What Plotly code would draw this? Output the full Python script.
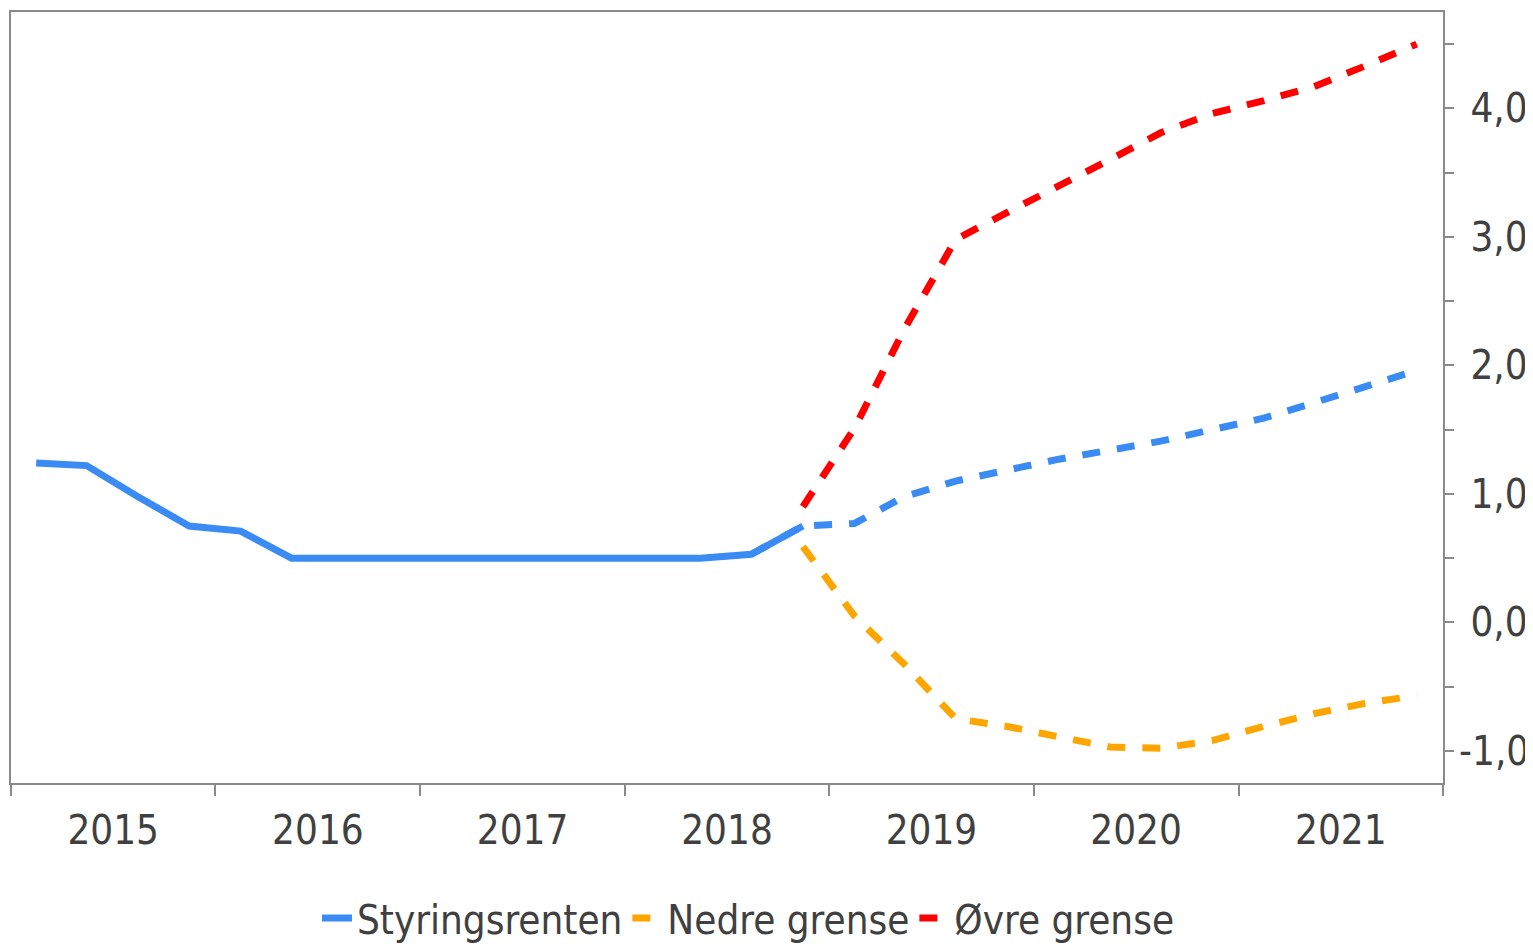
import pandas as pd
import plotly.graph_objects as go

# ---- data -------------------------------------------------------------
actual_quarters = ["2015Q1", "2015Q2", "2015Q3", "2015Q4",
                   "2016Q1", "2016Q2", "2016Q3", "2016Q4",
                   "2017Q1", "2017Q2", "2017Q3", "2017Q4",
                   "2018Q1", "2018Q2", "2018Q3", "2018Q4"]
styringsrenten = [1.24, 1.22, 0.98, 0.75,
                  0.71, 0.50, 0.50, 0.50,
                  0.50, 0.50, 0.50, 0.50,
                  0.50, 0.50, 0.53, 0.75]

forecast_quarters = ["2018Q3", "2018Q4",
                     "2019Q1", "2019Q2", "2019Q3", "2019Q4",
                     "2020Q1", "2020Q2", "2020Q3", "2020Q4",
                     "2021Q1", "2021Q2", "2021Q3", "2021Q4"]
styringsrenten_prognose = [0.53, 0.75,
                           0.77, 0.98, 1.10, 1.19,
                           1.27, 1.34, 1.41, 1.50,
                           1.59, 1.71, 1.83, 1.96]

band_quarters = forecast_quarters[1:]
nedre_grense = [0.59,
                0.05, -0.33, -0.75, -0.81,
                -0.89, -0.97, -0.98, -0.92,
                -0.81, -0.71, -0.63, -0.57]
ovre_grense = [0.90,
               1.51, 2.29, 2.98, 3.19,
               3.39, 3.60, 3.81, 3.96,
               4.06, 4.17, 4.33, 4.50]

y_tick_values = [-1, 0, 1, 2, 3, 4]
y_tick_labels = ["-1,0", "0,0", "1,0", "2,0", "3,0", "4,0"]

series_names = ["Styringsrenten", "Nedre grense", "Øvre grense"]


def mid_quarter(labels):
    return [pd.Period(q, freq="Q").start_time + pd.Timedelta(days=45) for q in labels]


BLUE = "#3B8BF5"
ORANGE = "#FFA500"
RED = "#FF0000"
TEXT = "#404040"
AXIS = "#8a8a8a"
FONT = "Liberation Sans Narrow, Arial Narrow, DejaVu Sans Condensed, sans-serif"
FS = 40
DASH = "18px,17px"

fig = go.Figure()

fig.add_trace(go.Scatter(
    x=mid_quarter(forecast_quarters), y=styringsrenten_prognose,
    mode="lines", line=dict(color=BLUE, width=7, dash=DASH),
    showlegend=False, hoverinfo="skip"))

fig.add_trace(go.Scatter(
    x=mid_quarter(band_quarters), y=nedre_grense, name=series_names[1],
    mode="lines", line=dict(color=ORANGE, width=7, dash=DASH),
    legendrank=2))

fig.add_trace(go.Scatter(
    x=mid_quarter(band_quarters), y=ovre_grense, name=series_names[2],
    mode="lines", line=dict(color=RED, width=7, dash=DASH),
    legendrank=3))

fig.add_trace(go.Scatter(
    x=mid_quarter(actual_quarters), y=styringsrenten, name=series_names[0],
    mode="lines", line=dict(color=BLUE, width=7),
    legendrank=1))

# The page puts the figure 8 px in from the top-left corner.
fig.update_layout(
    width=1525, height=938,
    margin=dict(l=3, r=90, t=4, b=163, autoexpand=False),
    paper_bgcolor="white", plot_bgcolor="white",
    font=dict(family=FONT, size=FS, color=TEXT),
    legend=dict(orientation="h", x=0.515, xanchor="center",
                y=-0.175, yanchor="middle",
                font=dict(family=FONT, size=FS, color=TEXT),
                itemwidth=30, tracegroupgap=0,
                bgcolor="rgba(0,0,0,0)"),
    xaxis=dict(
        type="date", automargin=False,
        range=["2015-01-01", "2022-01-01"],
        tick0="2015-01-01", dtick="M12",
        tickformat="%Y", ticklabelmode="period",
        ticks="outside", ticklen=11, tickwidth=2, tickcolor=AXIS,
        showline=True, linecolor=AXIS, linewidth=2, mirror=True,
        showgrid=False, zeroline=False,
        tickfont=dict(family=FONT, size=FS, color=TEXT),
    ),
    yaxis=dict(
        side="right", automargin=False,
        range=[-1.25, 4.75],
        tickvals=y_tick_values,
        ticktext=["\u00a0" + t if not t.startswith("-") else t for t in y_tick_labels],
        ticks="outside", ticklen=9, tickwidth=1.5, tickcolor=AXIS,
        ticklabelstandoff=-3,
        minor=dict(dtick=0.5, tick0=0, ticks="outside", ticklen=9,
                   tickwidth=1.5, tickcolor=AXIS, showgrid=False),
        showline=True, linecolor=AXIS, linewidth=2, mirror=True,
        showgrid=False, zeroline=False,
        tickfont=dict(family=FONT, size=FS, color=TEXT),
    ),
)

fig.write_html("out.html")
